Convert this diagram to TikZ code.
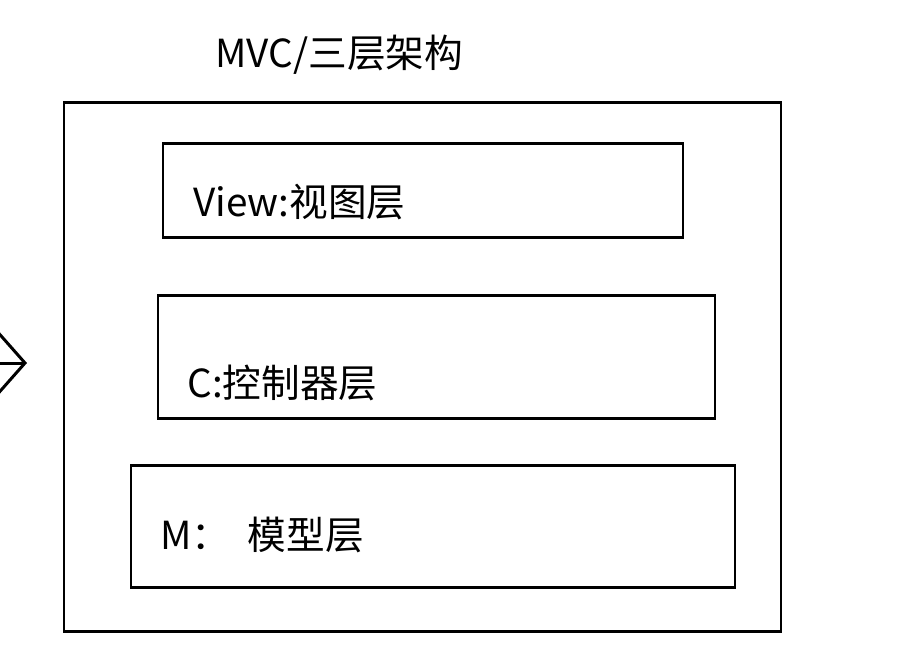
\documentclass[tikz,border=0pt]{standalone}
\usepackage{fontspec}
\setmainfont{Noto Sans CJK SC}
\usetikzlibrary{arrows.meta, positioning}
\tikzset{
	layerbox/.style={draw=black, line width=1.7pt},
	lbl/.style={anchor=west, inner sep=0pt, font=\fontsize{22}{26}\selectfont},
}

\begin{document}
\begin{tikzpicture}[x=0.02cm, y=-0.02cm]
	\useasboundingbox (0,0) rectangle (924,654);
	% frame and the three layers
	\draw[layerbox] (64,102) rectangle (781,631);
	\draw[layerbox] (163,143) rectangle (683,237);
	\draw[layerbox] (158,295) rectangle (715,418);
	\draw[layerbox] (131,465) rectangle (735,587);
	\node[lbl] (title) at (215,55) {MVC/三层架构};
	\node[lbl] (view) at (193,202) {View:视图层};
	\node[lbl] (ctrl) at (187,383) {C:控制器层};
	\node[lbl] (model) at (160,535) {M：\hspace{0.45em}模型层};
	% arrow cut off at the left edge
	\coordinate (arrS) at (-2,363);
	\coordinate (arrE) at (27,363);
	\draw[line width=1.7pt, -{Straight Barb[length=15pt, width=34pt, line width=1.7pt]}] (arrS) -- (arrE);
\end{tikzpicture}
\end{document}
